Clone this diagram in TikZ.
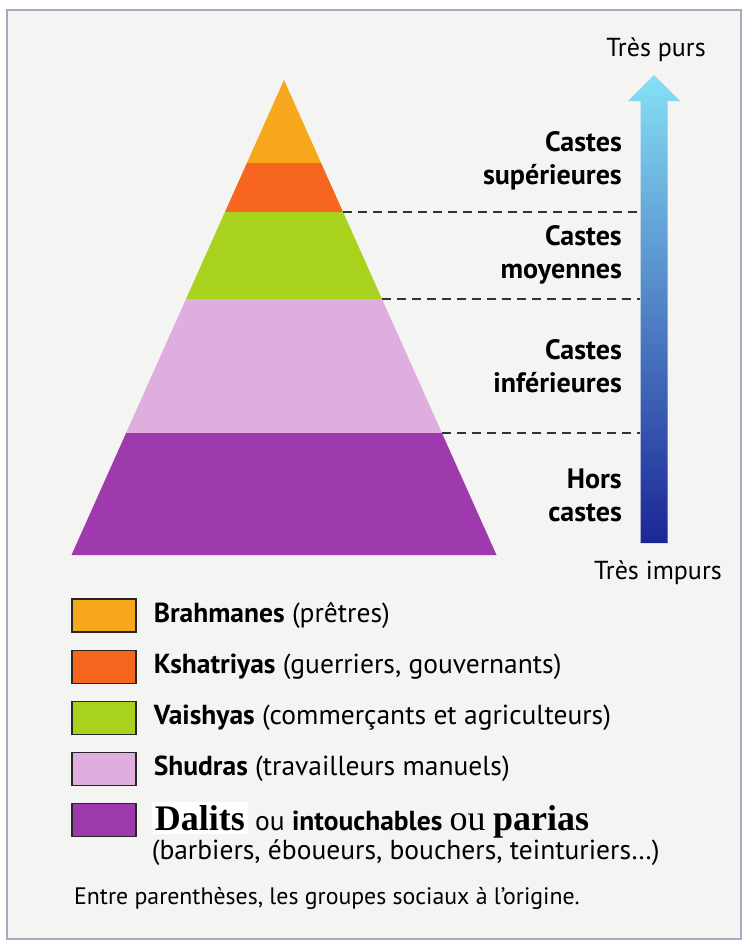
\documentclass[tikz,border=0pt]{standalone}
\usepackage{fontspec}
\setmainfont{PT Sans}
\newfontfamily\serifdal{Liberation Serif}
\usetikzlibrary{positioning}

\definecolor{paper}{HTML}{F4F4F2}
\definecolor{framec}{HTML}{A4ACC4}
\definecolor{brahm}{HTML}{F6A71C}
\definecolor{kshat}{HTML}{F7661F}
\definecolor{vaish}{HTML}{A9D21E}
\definecolor{shudr}{HTML}{DFAEDF}
\definecolor{dalit}{HTML}{9E3AAD}
\definecolor{arrtop}{HTML}{86E0F6}
\definecolor{arrmid}{HTML}{3F9ADF}
\definecolor{arrbot}{HTML}{1B2696}

\newcommand\dalfont{\serifdal\fontsize{36}{36}\selectfont}

\begin{document}
\begin{tikzpicture}[x=1pt,y=-1pt,node distance=17pt,
    legbox/.style={draw=black!85,line width=1.2pt,minimum width=64pt,minimum height=33pt,inner sep=0pt},
    legtxt/.style={inner sep=0pt,font=\fontsize{27.5}{31}\selectfont},
    caste/.style={align=right,anchor=east,inner sep=0pt,font=\bfseries\fontsize{28}{33}\selectfont},
    sep/.style={dash pattern=on 9pt off 6pt,line width=1.4pt,black!80}]
\useasboundingbox (0,0) rectangle (744,942);
\filldraw[fill=paper,draw=framec,line width=1.5pt] (7,10) rectangle (741,939);

% pyramid
\fill[brahm] (284,80) -- (321.1,163) -- (246.9,163) -- cycle;
\fill[kshat] (246.9,163) -- (321.1,163) -- (343.05,212) -- (224.95,212) -- cycle;
\fill[vaish] (224.95,212) -- (343.05,212) -- (382,299) -- (186,299) -- cycle;
\fill[shudr] (186,299) -- (382,299) -- (441.9,433) -- (126.1,433) -- cycle;
\fill[dalit] (126.1,433) -- (441.9,433) -- (496.5,555) -- (71.5,555) -- cycle;

% purity arrow
\shade[top color=arrtop,middle color=arrmid,bottom color=arrbot]
  (640.5,543) -- (640.5,101) -- (628,101) -- (654,75) -- (680,101)
  -- (667.5,101) -- (667.5,543) -- cycle;
\node (pur)   [font=\fontsize{26}{30}\selectfont] at (656,50)  {Très purs};
\node (impur) [font=\fontsize{26}{30}\selectfont] at (658,573) {Très impurs};

% limits between the groups
\draw[sep] (343.05,212) -- (640,212);
\draw[sep] (382,299) -- (640,299);
\draw[sep] (441.9,433) -- (640,433);

\node (sup)  [caste] at (622,161)   {Castes\\supérieures};
\node (moy)  [caste] at (622,254.5) {Castes\\moyennes};
\node (inf)  [caste] at (622,366.5) {Castes\\inférieures};
\node (hors) [caste] at (622,495.5) {Hors\\castes};

% legend
\node (b0) [legbox,fill=brahm] at (104,615.5) {};
\node (b1) [legbox,fill=kshat,below=of b0] {};
\node (b2) [legbox,fill=vaish,below=of b1] {};
\node (b3) [legbox,fill=shudr,below=of b2] {};
\node (b4) [legbox,fill=dalit,below=of b3] {};

\node (t0) [legtxt,right=of b0] {\textbf{Brahmanes} (prêtres)};
\node (t1) [legtxt,right=of b1] {\textbf{Kshatriyas} (guerriers, gouvernants)};
\node (t2) [legtxt,right=of b2] {\textbf{Vaishyas} (commerçants et agriculteurs)};
\node (t3) [legtxt,right=of b3] {\textbf{Shudras} (travailleurs manuels)};
\node (t4) [legtxt,right=15pt of b4] {\setlength\fboxsep{3pt}\colorbox{white}{\dalfont\bfseries Dalits} ou \textbf{intouchables} {\dalfont ou} {\dalfont\bfseries parias}};
\node (t5) [legtxt,below=1pt of t4.south west,anchor=north west] {(barbiers, éboueurs, bouchers, teinturiers…)};

\node (note) [anchor=west,inner sep=0pt,font=\fontsize{23.8}{26}\selectfont] at (74,898) {Entre parenthèses, les groupes sociaux à l’origine.};
\end{tikzpicture}
\end{document}
